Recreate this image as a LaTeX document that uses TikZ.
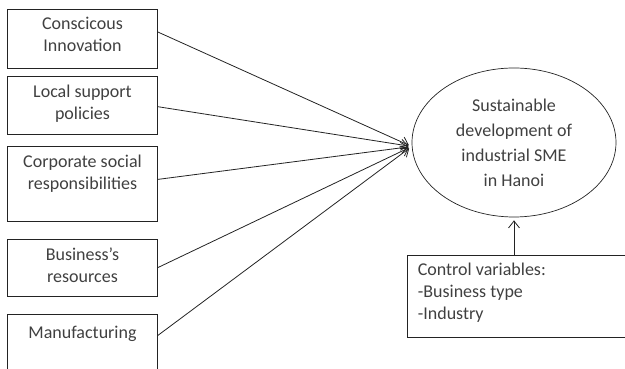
\documentclass[tikz,border=0pt]{standalone}
\usepackage{fontspec}
\setmainfont{Carlito}
\definecolor{linegray}{RGB}{35,35,35}
\definecolor{textgray}{RGB}{64,64,64}
\usetikzlibrary{
  arrows.meta,
  positioning,
  shapes.geometric,
}
\tikzset{
  >={Straight Barb[length=7pt,width=11pt]},
}

\begin{document}
\begin{tikzpicture}[x=1pt,y=1pt,node distance=0pt and 0pt,
    factor/.style={draw=linegray,rectangle,line width=0.7pt,minimum width=150,inner sep=0pt},
    caption/.style={inner sep=0pt,text=textgray,font=\fontsize{18}{22}\selectfont,execute at begin node=\strut},
    link/.style={->,draw=linegray,line width=0.8pt,shorten >=3pt}]
        \useasboundingbox (0,0) rectangle (625,369);

        % factors on the left
        \node[factor,minimum height=59]    (b1) at (82.5,330.5)     {};
        \node[factor,minimum height=58]    (b2) [below=8pt of b1]   {};
        \node[factor,minimum height=75]    (b3) [below=11pt of b2]  {};
        \node[factor,minimum height=57]    (b4) [below=17pt of b3]  {};
        \node[factor,minimum height=70]    (b5) [below=18pt of b4]  {};

        \node[caption,align=center] (t1) [below=8.6pt of b1.north] {Conscicous\\Innovation};
        \node[caption,align=center] (t2) [below=8.6pt of b2.north] {Local support\\policies};
        \node[caption,align=center] (t3) [below=8.6pt of b3.north] {Corporate social\\responsibilities};
        \node[caption,align=center] (t4) [below=8.6pt of b4.north] {Business’s\\resources};
        \node[caption,align=center] (t5) [below=8.6pt of b5.north] {Manufacturing};

        % outcome
        \node[draw=linegray,ellipse,line width=0.7pt,minimum width=204,minimum height=149,inner sep=0pt,
              align=center,text=textgray,font=\fontsize{18}{25}\selectfont] (sme) at (514,226.5)
              {Sustainable\\development of\\industrial SME\\in Hanoi};

        % control variables
        \node[factor,minimum width=223,minimum height=82] (ctrl) at (518.5,73) {};
        \node[caption,align=left] (tc) [below right=8.6pt and 11pt of ctrl.north west]
              {Control variables:\\-Business type\\-Industry};

        \draw[link] ([yshift=6.5pt]b1.east)     -- ([yshift=-4pt]sme.west);
        \draw[link] ([yshift=-1pt]b2.east)      -- ([yshift=-4pt]sme.west);
        \draw[link] ([yshift=4.5pt]b3.east)     -- ([yshift=-4pt]sme.west);
        \draw[link] (b4.east)                   -- ([yshift=-4pt]sme.west);
        \draw[link] ([yshift=-21pt]b5.north east) -- ([yshift=-4pt]sme.west);
        \draw[link] (ctrl.north -| sme.south)   -- (sme.south);
\end{tikzpicture}
\end{document}
